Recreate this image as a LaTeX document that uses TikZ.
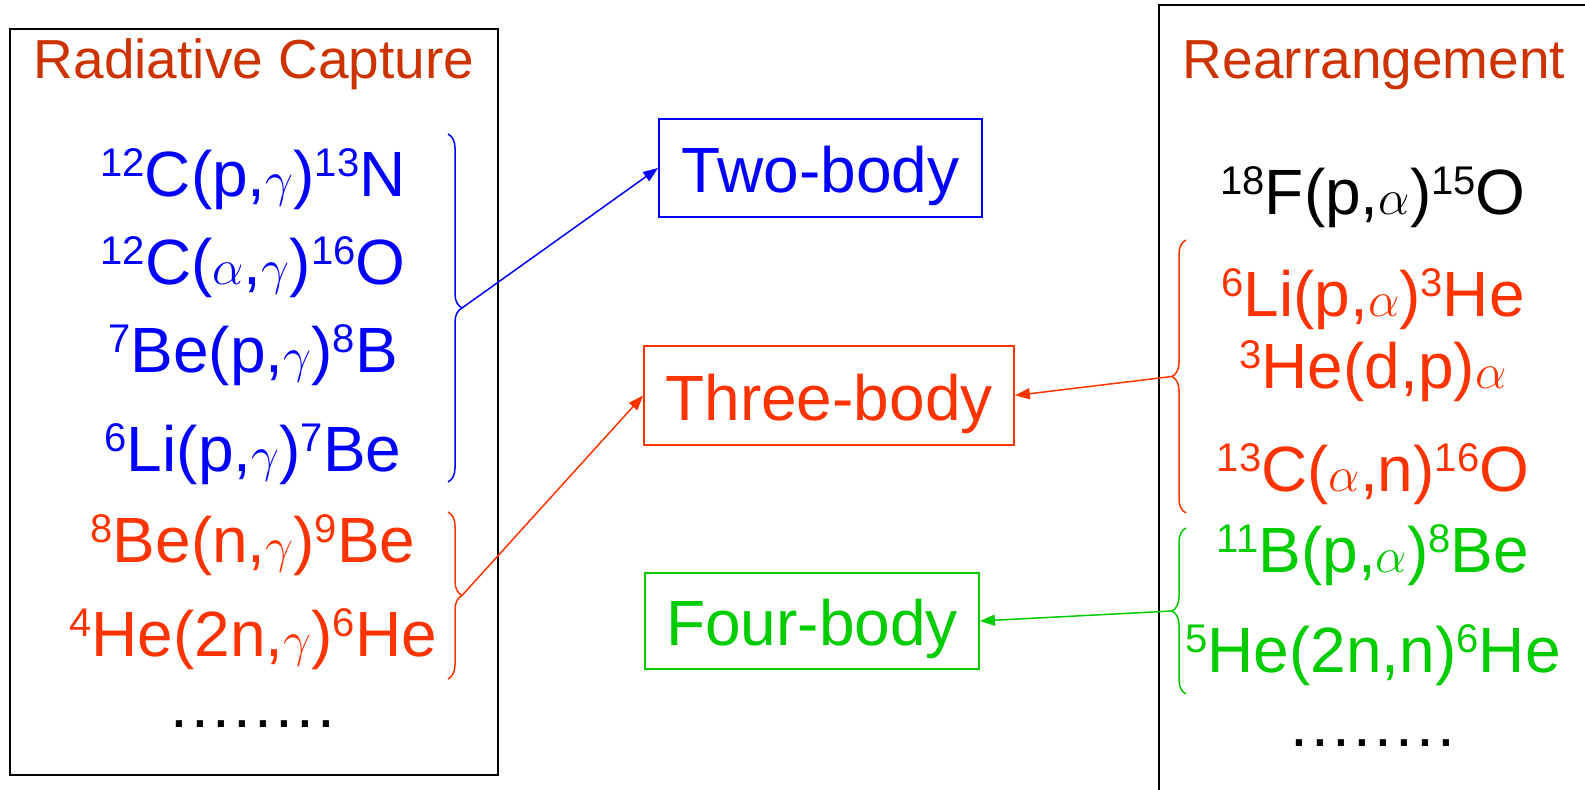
\documentclass[tikz,border=0pt]{standalone}
\usepackage{fontspec}
\setmainfont{Liberation Sans}
\usetikzlibrary{arrows.meta, decorations.pathreplacing}

\definecolor{rblue}{HTML}{0000FF}
\definecolor{rred}{HTML}{FF3300}
\definecolor{rgreen}{HTML}{00CC00}
\definecolor{rtitle}{HTML}{CC3300}

% mass number written in front of a nucleus
\newcommand{\iso}[1]{\raisebox{0.32em}{\fontsize{20}{20}\selectfont #1}}
% greek particle symbols
\newcommand{\ga}{\(\gamma\)}
\newcommand{\al}{\(\alpha\)}

\begin{document}
\begin{tikzpicture}[
  x=0.5pt, y=-0.5pt,
  ttl/.style={anchor=base, inner sep=0pt, text=rtitle,
              font=\fontsize{27.5}{30}\selectfont},
  rxn/.style={anchor=base, inner sep=0pt, font=\fontsize{32}{36}\selectfont},
  dots/.style={anchor=base, inner sep=0pt,
               font=\fontsize{32}{36}\selectfont\addfontfeature{LetterSpace=5}},
  cls/.style={draw, line width=0.9pt, inner sep=0pt, text height=25pt,
              text depth=0pt, font=\fontsize{32}{36}\selectfont},
  frm/.style={draw=black, line width=1pt},
  brc/.style={decorate, decoration={brace, amplitude=7pt}, line width=0.75pt},
  arr/.style={-{Triangle[length=7.5pt, width=5.5pt]}, line width=0.75pt},
]
\clip (0,0) rectangle (1585,790);

% ── radiative capture column ────────────────────────────────────────────────
\draw[frm] (10,29) rectangle (498,775);
\node[ttl] (rctitle) at (254,79) {Radiative Capture};

\node[rxn, text=rblue] (rc1) at (253,197) {\iso{12}C(p,\ga)\iso{13}N};
\node[rxn, text=rblue] (rc2) at (253,285) {\iso{12}C(\al,\ga)\iso{16}O};
\node[rxn, text=rblue] (rc3) at (253,373) {\iso{7}Be(p,\ga)\iso{8}B};
\node[rxn, text=rblue] (rc4) at (253,472) {\iso{6}Li(p,\ga)\iso{7}Be};
\node[rxn, text=rred]  (rc5) at (253,563) {\iso{8}Be(n,\ga)\iso{9}Be};
\node[rxn, text=rred]  (rc6) at (253,657) {\iso{4}He(2n,\ga)\iso{6}He};
\node[dots] (rcdots) at (253,727) {........};

% ── rearrangement column (runs off the page) ────────────────────────────────
\draw[frm] (1159,5) rectangle (1610,810);
\node[ttl] (retitle) at (1374,79) {Rearrangement};

\node[rxn]              (re1) at (1373,215) {\iso{18}F(p,\al)\iso{15}O};
\node[rxn, text=rred]   (re2) at (1373,317) {\iso{6}Li(p,\al)\iso{3}He};
\node[rxn, text=rred]   (re3) at (1373,389) {\iso{3}He(d,p)\al};
\node[rxn, text=rred]   (re4) at (1373,492) {\iso{13}C(\al,n)\iso{16}O};
\node[rxn, text=rgreen] (re5) at (1373,573) {\iso{11}B(p,\al)\iso{8}Be};
\node[rxn, text=rgreen] (re6) at (1373,673) {\iso{5}He(2n,n)\iso{6}He};
\node[dots] (redots) at (1373,746) {........};

% ── few-body classes ────────────────────────────────────────────────────────
\node[cls, draw=rblue, text=rblue, minimum width=161.5pt, minimum height=49pt]
  (two) at (820.5,168) {Two-body};
\node[cls, draw=rred, text=rred, minimum width=185pt, minimum height=49.5pt]
  (three) at (829,395.5) {Three-body};
\node[cls, draw=rgreen, text=rgreen, minimum width=167pt, minimum height=48pt]
  (four) at (812,621) {Four-body};

% ── braces and connectors ───────────────────────────────────────────────────
\draw[brc, rblue] (448,134) -- (448,482);
\draw[brc, rred]  (448,512) -- (448,679);
\draw[brc, rred]   (1186,513) -- (1186,240);
\draw[brc, rgreen] (1186,694) -- (1186,528);

\coordinate (b2)  at (462,308);
\coordinate (b3l) at (462,595.5);
\coordinate (b3r) at (1172,376.5);
\coordinate (b4)  at (1172,611);

\draw[arr, rblue]  (b2)  -- (two.west);
\draw[arr, rred]   (b3l) -- (three.west);
\draw[arr, rred]   (b3r) -- (three.east);
\draw[arr, rgreen] (b4)  -- (four.east);

\end{tikzpicture}
\end{document}
